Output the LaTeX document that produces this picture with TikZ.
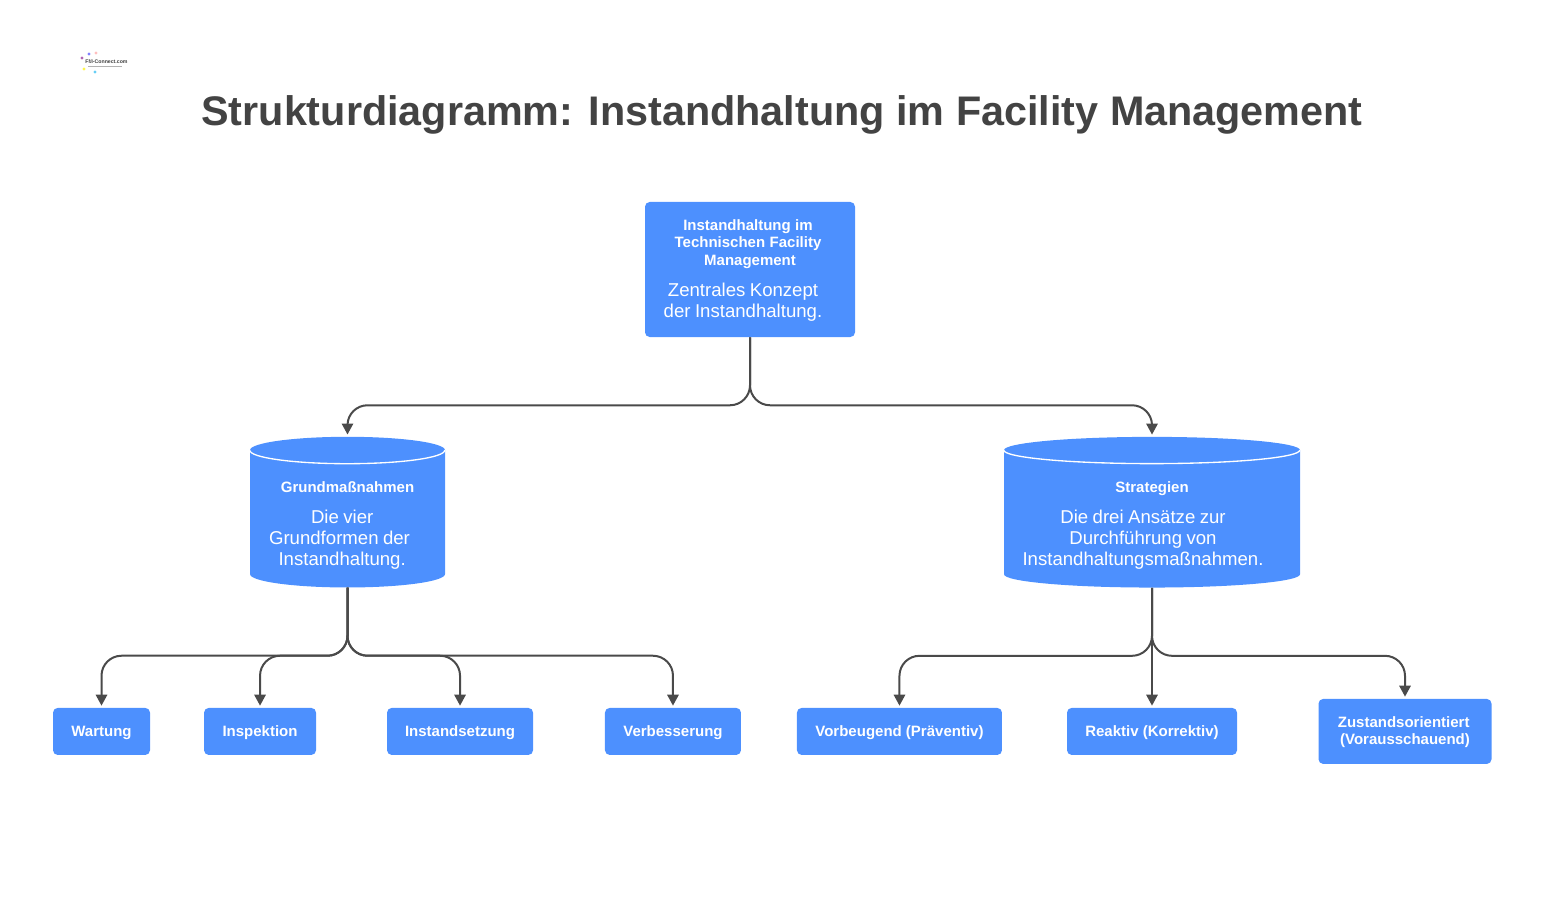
\documentclass[tikz,border=0pt]{standalone}
\usepackage{fontspec}
\setmainfont{Liberation Sans}
\usetikzlibrary{arrows.meta, positioning, shapes.geometric}
\definecolor{boxblue}{RGB}{77,144,254}
\definecolor{linegray}{RGB}{74,74,74}
\definecolor{titlegray}{RGB}{67,67,67}
\newcommand{\headfont}{\fontsize{11.25}{13.1}\selectfont\bfseries}
\newcommand{\bodyfont}{\fontsize{13.95}{15.75}\selectfont\mdseries}
\newcommand{\tail}[1]{\hspace*{#1}\mbox{}}

\begin{document}
\begin{tikzpicture}[x=0.75pt,y=-0.75pt,on grid,>={Triangle[length=8.25pt,width=8.5pt]}]
    \tikzstyle{conn}=[->,draw=linegray,line width=1.5pt,rounded corners=15pt,shorten >=1.5pt]
    \tikzstyle{rootbox}=[shape=rectangle,rounded corners=3.5pt,fill=boxblue,text=white,inner sep=0pt,minimum width=157.5pt,minimum height=101.25pt,text width=150pt,align=center]
    \tikzstyle{leaf}=[shape=rectangle,rounded corners=3.5pt,fill=boxblue,text=white,inner sep=0pt,minimum height=35.25pt,text height=9.6pt,text depth=2.4pt,align=center,font=\headfont]
    \tikzstyle{tank}=[shape=cylinder,shape border rotate=90,cylinder uses custom fill,cylinder body fill=boxblue,cylinder end fill=boxblue,text=white,inner sep=0pt,minimum height=113pt,align=center]

    \useasboundingbox (0,0) rectangle (1558,909);

    \node[font=\fontsize{31}{36}\selectfont\bfseries,text=titlegray] (title) at (782,115) {Strukturdiagramm: Instandhaltung im Facility Management};

    % logo
    \node[font=\fontsize{3.9}{5}\selectfont\bfseries,text=black!75,inner sep=0pt] (logo) at (106.5,62) {FM-Connect.com};
    \fill[gray!60] (88,66.5) rectangle (122,67.5);
    \foreach \x/\y/\c in {82/58/violet!60, 89/54/blue!50, 96/53/pink, 84/69/yellow!70, 95/72/cyan!60, 91/61/gray!60}
        \fill[\c] (\x,\y) circle (1.2pt);

    \node[rootbox] (root) at (750,269.5) {\headfont\rule{0pt}{9.6pt}Instandhaltung im\tail{3pt}\\Technischen Facility\tail{3pt}\\Management\par\vspace{7.5pt}\bodyfont Zentrales Konzept\tail{10.5pt}\\der Instandhaltung.\tail{10.5pt}\par};

    \node[tank,minimum width=146.25pt,aspect=0.1436,text width=140pt,below left=187.1pt and 301.875pt of root] (grund) {\headfont\rule{0pt}{17.9pt}Grundmaßnahmen\par\vspace{7.5pt}\bodyfont Die vier\tail{8pt}\\Grundformen der\tail{12pt}\\Instandhaltung.\tail{8pt}\par};
    \node[tank,minimum width=222pt,aspect=0.0946,text width=210pt,below right=187.1pt and 301.5pt of root] (strat) {\headfont\rule{0pt}{17.9pt}Strategien\par\vspace{7.5pt}\bodyfont Die drei Ansätze zur\tail{13.5pt}\\Durchführung von\tail{13.5pt}\\Instandhaltungsmaßnahmen.\tail{13.5pt}\par};

    \node[leaf,minimum width=72.75pt,below left=159.35pt and 184.5pt of grund] (wart) {Wartung};
    \node[leaf,minimum width=84pt,below left=159.35pt and 65.6pt of grund] (insp) {Inspektion};
    \node[leaf,minimum width=109.5pt,below right=159.35pt and 84.4pt of grund] (setz) {Instandsetzung};
    \node[leaf,minimum width=102pt,below right=159.35pt and 244.1pt of grund] (verb) {Verbesserung};

    \node[leaf,minimum width=153.75pt,below left=159.35pt and 189.4pt of strat] (vorb) {Vorbeugend (Präventiv)};
    \node[leaf,minimum width=127.5pt,below=159.35pt of strat] (reak) {Reaktiv (Korrektiv)};
    \node[leaf,minimum width=129.75pt,minimum height=48.75pt,text height=22.7pt,below right=159.35pt and 189.75pt of strat] (zust) {Zustandsorientiert\tail{2pt}\\(Vorausschauend)};

    % white rim of the tanks
    \draw[white,line width=1pt] (grund.before top) arc[start angle=180,end angle=0,x radius=97.5,y radius=13.5];
    \draw[white,line width=1pt] (strat.before top) arc[start angle=180,end angle=0,x radius=148,y radius=13.5];

    \path[conn] (root.south) -- ++(0,68) -| (grund.top);
    \path[conn] (root.south) -- ++(0,68) -| (strat.top);

    \path[conn] (grund.bottom) -- ++(0,68) -| (wart.north);
    \path[conn] (grund.bottom) -- ++(0,68) -| (insp.north);
    \path[conn] (grund.bottom) -- ++(0,68) -| (setz.north);
    \path[conn] (grund.bottom) -- ++(0,68) -| (verb.north);

    \path[conn] (strat.bottom) -- ++(0,68) -| (vorb.north);
    \path[conn] (strat.bottom) -- (reak.north);
    \path[conn] (strat.bottom) -- ++(0,68) -| (zust.north);

\end{tikzpicture}
\end{document}
